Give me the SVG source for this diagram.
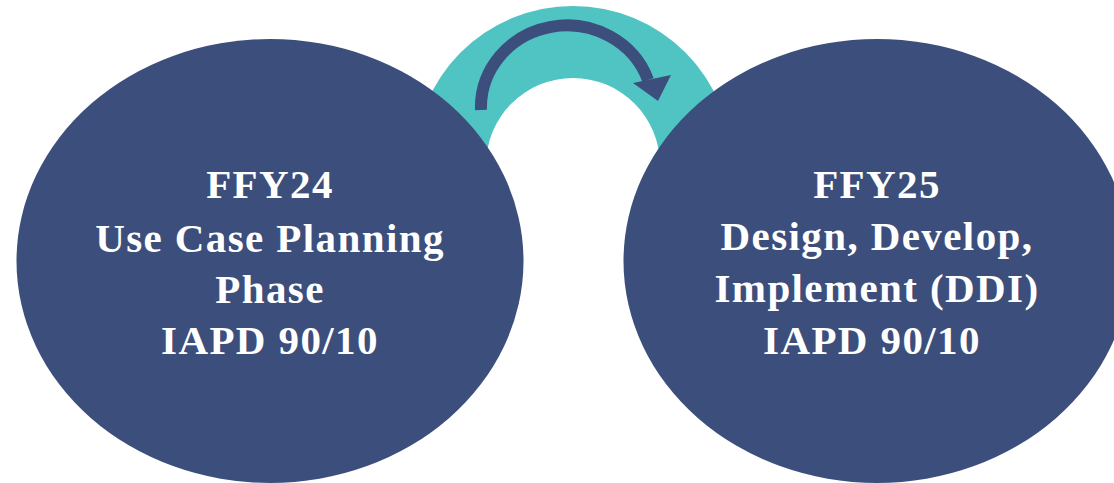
<svg xmlns="http://www.w3.org/2000/svg" width="1114" height="483" viewBox="0 0 1114 483">
  <style>
    .node { fill: #3C4E7C; }
    .lbl { font-family: "Liberation Serif", "DejaVu Serif", serif; font-weight: bold; font-size: 41px; fill: #FFFFFF; text-anchor: middle; letter-spacing: 1.4px; }
    .band { fill: #50C3C3; }
    .arrow { fill: none; stroke: #3C4E7C; stroke-width: 12; stroke-linecap: butt; }
    .head { fill: #3C4E7C; }
  </style>
  <rect width="1114" height="483" fill="#FFFFFF"/>
  <g id="connectors">
    <path class="band" d="M 414 165 A 159 159 0 0 1 732 165 L 660 165 A 87 87 0 0 0 486 165 Z"/>
    <path class="arrow" d="M 481 110 A 86 82 0 0 1 648 80"/>
    <polygon class="head" points="633,83 671,75 658,101"/>
  </g>
  <g id="node-ffy24">
    <ellipse class="node" cx="270" cy="261" rx="253.5" ry="222"/>
    <text class="lbl" x="270" y="198">FFY24</text>
    <text class="lbl" x="270" y="252">Use Case Planning</text>
    <text class="lbl" x="270" y="303">Phase</text>
    <text class="lbl" x="270" y="354">IAPD 90/10</text>
  </g>
  <g id="node-ffy25">
    <ellipse class="node" cx="877" cy="261" rx="253.5" ry="222"/>
    <text class="lbl" x="877" y="198">FFY25</text>
    <text class="lbl" x="877" y="250">Design, Develop,</text>
    <text class="lbl" x="877" y="302">Implement (DDI)</text>
    <text class="lbl" x="872" y="354">IAPD 90/10</text>
  </g>
</svg>
